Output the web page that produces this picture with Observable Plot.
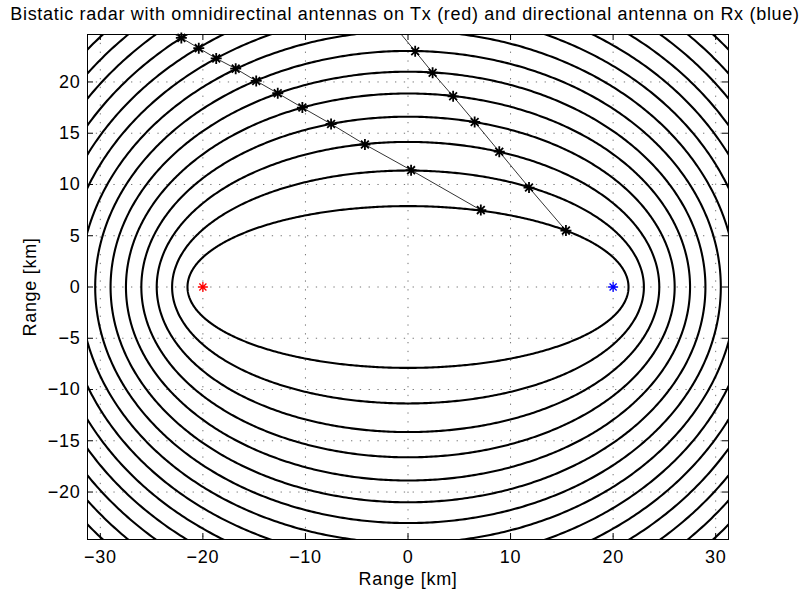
<!DOCTYPE html>
<html>
<head>
<meta charset="utf-8">
<script src="https://cdn.jsdelivr.net/npm/d3@7"></script>
<script src="https://cdn.jsdelivr.net/npm/@observablehq/plot@0.6"></script>
<style>
  html, body { margin: 0; padding: 0; background: white; }
</style>
</head>
<body>
<div id="chart"></div>
<script>
// ---- data ----
const titleText = "Bistatic radar with omnidirectinal antennas on Tx (red) and directional antenna on Rx (blue)";
const xLabel = "Range [km]";
const yLabel = "Range [km]";
const xTicks = [-30, -20, -10, 0, 10, 20, 30];
const yTicks = [-20, -15, -10, -5, 0, 5, 10, 15, 20];
const xDomain = [-31.25, 31.25];
const yDomain = [-24.63, 24.63];

// antennas (foci of the iso-range ellipses)
const antennaName = ["Tx", "Rx"];
const antennaX = [-20, 20];
const antennaY = [0, 0];

// semi-major axes of the constant bistatic range ellipses [km]
const semiMajor = [21.5, 23, 24.5, 26, 27.5, 29, 30.5, 32, 33.5, 35, 36.5, 38, 39.5, 41];

// receive beam 1 (steeper) – marked intersections
const beam1X = [15.4, 11.8, 8.9, 6.5, 4.4, 2.4, 0.7];
const beam1Y = [5.5, 9.7, 13.2, 16.1, 18.6, 20.9, 23.0];
const beam1EdgeX = -0.65;
// receive beam 2 (shallower) – marked intersections
const beam2X = [7.1, 0.3, -4.2, -7.5, -10.3, -12.7, -14.8, -16.8, -18.7, -20.4, -22.1];
const beam2Y = [7.5, 11.4, 13.9, 15.9, 17.5, 18.9, 20.1, 21.3, 22.3, 23.3, 24.3];
const beam2EdgeX = -22.7;

// ---- derived tables ----
const focalHalf = (antennaX[1] - antennaX[0]) / 2;
const ellipsePts = [];
semiMajor.forEach(a => {
  const b = Math.sqrt(a * a - focalHalf * focalHalf);
  const n = 720;
  for (let i = 0; i <= n; i++) {
    const t = (i / n) * 2 * Math.PI;
    ellipsePts.push({a, x: a * Math.cos(t), y: b * Math.sin(t)});
  }
});
const antennas = antennaName.map((name, i) => ({name, x: antennaX[i], y: antennaY[i]}));
const beam1 = beam1X.map((x, i) => ({beam: 1, x, y: beam1Y[i]}));
const beam2 = beam2X.map((x, i) => ({beam: 2, x, y: beam2Y[i]}));
const beamPaths = [
  ...beam1, {beam: 1, x: beam1EdgeX, y: yDomain[1]},
  ...beam2, {beam: 2, x: beam2EdgeX, y: yDomain[1]}
];
const stars = [...beam1, ...beam2];

const asterisk = {
  draw(ctx, size) {
    const r = Math.sqrt(size / Math.PI);
    const d = r * Math.SQRT1_2;
    ctx.moveTo(-r, 0); ctx.lineTo(r, 0);
    ctx.moveTo(0, -r); ctx.lineTo(0, r);
    ctx.moveTo(-d, -d); ctx.lineTo(d, d);
    ctx.moveTo(-d, d); ctx.lineTo(d, -d);
  }
};

const W = 808, H = 596;
const mL = 87, mR = 80, mT = 34, mB = 57;
const fH = H - mT - mB, fW = W - mL - mR;
const FS = 18;
const fmt = d => d < 0 ? "\u2212" + Math.abs(d) : String(d);
const gridStyle = {stroke: "#000", strokeOpacity: 0.55, strokeWidth: 1, strokeDasharray: "1.3,7.5"};

const chart = Plot.plot({
  width: W,
  height: H,
  marginLeft: mL,
  marginRight: mR,
  marginTop: mT,
  marginBottom: mB,
  style: {fontFamily: "'Liberation Sans', Arial, Helvetica, sans-serif", fontSize: FS + "px", letterSpacing: "0.7px", background: "white", color: "black"},
  x: {domain: xDomain, axis: null},
  y: {domain: yDomain, axis: null},
  color: {domain: antennaName, range: ["red", "blue"]},
  marks: [
    Plot.gridX(xTicks, {...gridStyle}),
    Plot.gridY(yTicks, {...gridStyle}),
    Plot.line(ellipsePts, {x: "x", y: "y", z: "a", stroke: "black", strokeWidth: 2.1, clip: true}),
    Plot.line(beamPaths, {x: "x", y: "y", z: "beam", stroke: "black", strokeWidth: 0.8, clip: true}),
    Plot.dot(stars, {x: "x", y: "y", symbol: asterisk, r: 5.5, fill: "none", stroke: "black", strokeWidth: 1.8}),
    Plot.dot(antennas, {x: "x", y: "y", symbol: asterisk, r: 5, fill: "none", stroke: "name", strokeWidth: 1.3}),
    Plot.frame({stroke: "black", strokeWidth: 1}),
    // inward ticks on all four sides
    Plot.tickX(xTicks, {x: d => d, stroke: "black", insetTop: fH - 6}),
    Plot.tickX(xTicks, {x: d => d, stroke: "black", insetBottom: fH - 6}),
    Plot.tickY(yTicks, {y: d => d, stroke: "black", insetRight: fW - 6}),
    Plot.tickY(yTicks, {y: d => d, stroke: "black", insetLeft: fW - 6}),
    // tick labels
    Plot.axisX(xTicks, {anchor: "bottom", tickSize: 0, tickPadding: 11, tickFormat: fmt, fontSize: FS, label: null}),
    Plot.axisY(yTicks, {anchor: "left", tickSize: 0, tickPadding: 7, tickFormat: fmt, fontSize: FS, label: null}),
    // axis titles and chart title
    Plot.text([xLabel], {text: d => d, frameAnchor: "bottom", dy: 45, lineAnchor: "bottom", fontSize: FS, fill: "black"}),
    Plot.text([yLabel], {text: d => d, frameAnchor: "left", dx: -57, rotate: -90, lineAnchor: "middle", textAnchor: "middle", fontSize: FS, fill: "black"}),
    Plot.text([titleText], {text: d => d, frameAnchor: "top", dy: -15, dx: -3, lineAnchor: "bottom", fontSize: FS, fill: "black"})
  ]
});
document.getElementById("chart").appendChild(chart);
</script>
</body>
</html>
